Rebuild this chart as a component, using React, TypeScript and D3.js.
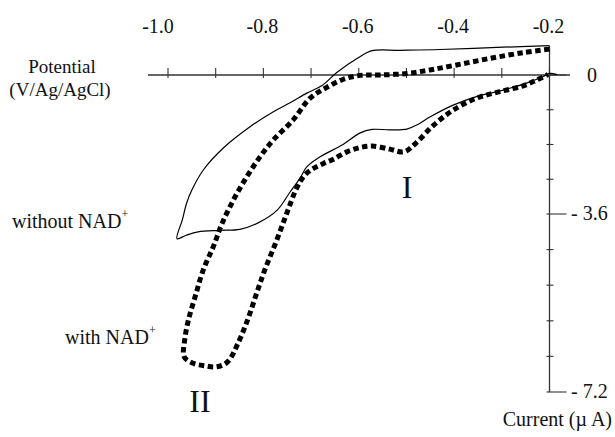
import React from 'react';
import * as d3 from 'd3';

// potential (V vs Ag/AgCl) / current (µA)
const withoutNadV = [-0.2, -0.297, -0.43, -0.514, -0.572, -0.602, -0.646, -0.677, -0.709, -0.744, -0.779, -0.828, -0.884, -0.926, -0.95, -0.961, -0.97, -0.981,
  -0.962, -0.937, -0.891, -0.849, -0.811, -0.771, -0.744, -0.723, -0.709, -0.681, -0.633, -0.597, -0.572, -0.535, -0.499, -0.476, -0.451, -0.402, -0.353, -0.297, -0.248, -0.213, -0.2, -0.184];
const withoutNadI = [0.76, 0.72, 0.66, 0.64, 0.63, 0.44, 0.065, -0.27, -0.47, -0.72, -0.95, -1.34, -1.89, -2.46, -2.98, -3.32, -3.72, -4.1,
  -4.03, -3.96, -3.93, -3.91, -3.78, -3.5, -3.03, -2.67, -2.38, -2.12, -1.8, -1.5, -1.41, -1.42, -1.4, -1.28, -1.09, -0.78, -0.56, -0.39, -0.21, -0.04, 0.04, 0.01];

const withNadV = [-0.2, -0.255, -0.325, -0.395, -0.451, -0.499, -0.555, -0.597, -0.632, -0.667, -0.702, -0.738, -0.779, -0.807, -0.835, -0.863, -0.887, -0.905, -0.926, -0.943, -0.957, -0.965, -0.966,
  -0.947, -0.922, -0.898, -0.875,
  -0.853, -0.833, -0.814, -0.797, -0.772, -0.75, -0.729, -0.713, -0.695, -0.674, -0.653, -0.625, -0.597, -0.572, -0.535, -0.505, -0.479, -0.444, -0.402, -0.353, -0.304, -0.255, -0.227, -0.203];
const withNadI = [0.67, 0.58, 0.43, 0.26, 0.13, 0.04, 0, -0.01, -0.11, -0.32, -0.6, -1.17, -1.68, -2.12, -2.64, -3.24, -3.8, -4.26, -4.73, -5.27, -5.74, -6.15, -6.49,
  -6.62, -6.67, -6.69, -6.59,
  -6.21, -5.74, -5.2, -4.73, -4.13, -3.55, -2.9, -2.59, -2.42, -2.29, -2.18, -1.99, -1.88, -1.84, -1.92, -1.99, -1.75, -1.31, -0.91, -0.6, -0.43, -0.28, -0.13, 0.01];

const xTicks = [-1.0, -0.9, -0.8, -0.7, -0.6, -0.5, -0.4, -0.3, -0.2];
const xTickLabels = [-1.0, -0.8, -0.6, -0.4, -0.2];
const yTicks = [0, -0.9, -1.8, -2.7, -3.6, -4.32, -5.04, -5.76, -6.48, -7.2];
const yTickLabels = [0, -3.6, -7.2];

const W = 615;
const H = 437;
const font = '"Liberation Serif", "Times New Roman", serif';

const x = d3.scaleLinear().domain([-1.0, -0.2]).range([168, 549.5]);
// the printed axis has uneven spacing: 4 ticks to -3.6, 5 more to -7.2
const y = d3.scaleLinear().domain([0, -3.6, -7.2]).range([75, 214, 392]);

const line = d3.line<[number, number]>()
  .x(d => x(d[0]))
  .y(d => y(d[1]))
  .curve(d3.curveCatmullRom.alpha(0.5));

const App: React.FC = () => {
  const solid = line(withoutNadV.map((v, i) => [v, withoutNadI[i]] as [number, number])) || '';
  const dotted = line(withNadV.map((v, i) => [v, withNadI[i]] as [number, number])) || '';
  const x0 = x(-0.2);
  const axisColor = '#333';

  return (
    <svg width={W} height={H} style={{ position: 'absolute', left: 0, top: 0, background: '#fff' }} fontFamily={font}>
      {/* x axis (top, along zero current) */}
      <line x1={148} x2={570} y1={y(0)} y2={y(0)} stroke={axisColor} strokeWidth={1.3} />
      {xTicks.map(t => (
        <line key={t} x1={x(t)} x2={x(t)} y1={y(0) - 7} y2={y(0) + 3} stroke={axisColor} strokeWidth={1.1} />
      ))}
      {xTickLabels.map(t => (
        <text key={t} x={x(t)} dx={t === -1.0 ? -10 : -1} y={33} textAnchor="middle" fontSize={20} fill="#111">{t.toFixed(1)}</text>
      ))}

      {/* y axis (right) */}
      <line x1={x0} x2={x0} y1={46} y2={y(-7.2)} stroke={axisColor} strokeWidth={1.3} />
      {yTicks.map(t => (
        <line key={t} x1={x0 - 3} x2={yTickLabels.includes(t) ? x0 + 17 : x0 + 4} y1={y(t)} y2={y(t)} stroke={axisColor} strokeWidth={1.1} />
      ))}
      {yTickLabels.map(t => (
        t === 0
          ? <text key={t} x={592} y={y(t) + 7} textAnchor="middle" fontSize={20} fill="#111">0</text>
          : <text key={t} x={571} y={y(t) + 6} fontSize={20} fill="#111">{'- ' + Math.abs(t).toFixed(1)}</text>
      ))}

      {/* curves */}
      <path d={solid} fill="none" stroke="#000" strokeWidth={1.2} />
      <path d={dotted} fill="none" stroke="#000" strokeWidth={5} strokeDasharray="5.5 3.5" />

      {/* texts */}
      <text x={62} y={73} textAnchor="middle" fontSize={19} fill="#111">Potential</text>
      <text x={60} y={96} textAnchor="middle" fontSize={19} fill="#111">(V/Ag/AgCl)</text>
      <text x={612} y={426} textAnchor="end" fontSize={20} fill="#111">Current (µ A)</text>
      <text x={12} y={228} fontSize={20} fill="#111">without NAD<tspan dy={-10} fontSize={12}>+</tspan></text>
      <text x={65} y={344} fontSize={20} fill="#111">with NAD<tspan dy={-10} fontSize={12}>+</tspan></text>
      <text x={407} y={198} textAnchor="middle" fontSize={32} fill="#111">I</text>
      <text x={200} y={412} textAnchor="middle" fontSize={32} fill="#111">II</text>
    </svg>
  );
};

export default App;
